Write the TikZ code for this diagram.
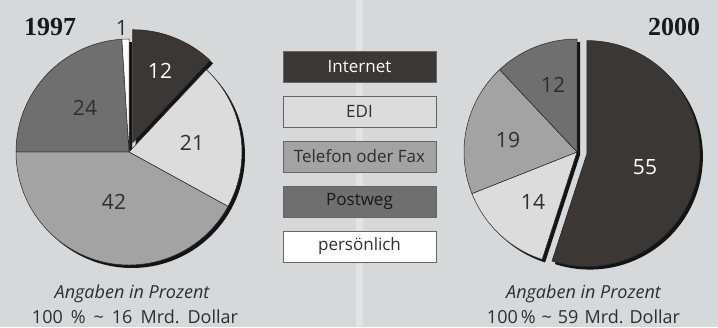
\documentclass[tikz,border=0pt]{standalone}
\usepackage{fontspec}
\setmainfont{Open Sans}
\newfontfamily\yearfont{Liberation Serif}
\definecolor{bg}{HTML}{D7D8DA}
\definecolor{stripe}{HTML}{E2E3E5}
\definecolor{cInternet}{HTML}{3B3734}
\definecolor{cEDI}{HTML}{DCDCDC}
\definecolor{cTel}{HTML}{A3A3A3}
\definecolor{cPost}{HTML}{6F6F6F}
\definecolor{cPers}{HTML}{FFFFFF}
\definecolor{textgray}{HTML}{2E2E2E}
\definecolor{shadowc}{HTML}{141414}
\newcommand\mkslice[5]{\path[#5] (#1,#2) -- ++(#3:113) arc[start angle=#3,end angle=#4,radius=113] -- cycle;}
\begin{document}
\begin{tikzpicture}[x=1pt,y=1pt,
  slice/.style={draw=black!85, line width=0.5pt},
  shadowfill/.style={fill=shadowc},
  legendbox/.style={draw=black!60, line width=0.8pt, minimum width=153pt, minimum height=31pt, inner sep=0pt, font=\fontsize{17}{20}\selectfont},
  pienum/.style={font=\fontsize{21}{24}\selectfont, text=textgray},
  capt/.style={font=\fontsize{18}{22}\selectfont, text=textgray},
  yearlabel/.style={font=\yearfont\bfseries\fontsize{26}{30}\selectfont, text=black!90}
]
\useasboundingbox (0,0) rectangle (718,327);
\fill[bg] (0,0) rectangle (718,327);
\fill[stripe] (356,0) rectangle (363,327);
% ---- left pie (1997) ----
\mkslice{135.7}{181.3}{90}{46.8}{shadowfill}
\mkslice{132}{172}{46.8}{-270}{shadowfill}
\mkslice{132.7}{184.3}{90}{46.8}{slice,fill=cInternet}
\mkslice{129}{175}{46.8}{-28.8}{slice,fill=cEDI}
\mkslice{129}{175}{-28.8}{-180}{slice,fill=cTel}
\mkslice{129}{175}{180}{93.6}{slice,fill=cPost}
\mkslice{129}{175}{93.6}{90}{slice,fill=cPers}
\node[pienum, text=white] (l12) at (160,256) {12};
\node[pienum] (l21) at (192,184) {21};
\node[pienum] (l24) at (85,219) {24};
\node[pienum] (l42) at (114,125) {42};
\node[pienum] (l1) at (122,299) {1};
\node[yearlabel] (y1997) at (50,300) {1997};
% ---- right pie (2000) ----
\mkslice{589.9}{170.4}{90}{-108}{shadowfill}
\mkslice{580}{172}{-108}{-270}{shadowfill}
\mkslice{586.9}{173.4}{90}{-108}{slice,fill=cInternet}
\mkslice{577}{175}{-108}{-158.4}{slice,fill=cEDI}
\mkslice{577}{175}{-158.4}{-226.8}{slice,fill=cTel}
\mkslice{577}{175}{-226.8}{-270}{slice,fill=cPost}
\node[pienum, text=white] (r55) at (645,160) {55};
\node[pienum] (r12) at (553,242) {12};
\node[pienum] (r19) at (508,187) {19};
\node[pienum] (r14) at (533,125) {14};
\node[yearlabel] (y2000) at (674,300) {2000};
% ---- legend ----
\node[legendbox, fill=cInternet, text=white] (lgInternet) at (359.5,260.5) {Internet};
\node[legendbox, fill=cEDI, text=textgray] (lgEDI) at (359.5,215.5) {EDI};
\node[legendbox, fill=cTel, text=textgray] (lgTel) at (359.5,170.5) {Telefon oder Fax};
\node[legendbox, fill=cPost, text=black!90] (lgPost) at (359.5,125.5) {Postweg};
\node[legendbox, fill=cPers, text=textgray] (lgPers) at (359.5,80.5) {persönlich};
% ---- captions ----
\node[capt] (capL1) at (132,33) {\itshape Angaben in Prozent};
\node[capt] (capL2) at (135,10) {100\hspace{8pt}\%\hspace{8pt}\textasciitilde\hspace{8pt}16\hspace{8pt}Mrd.\hspace{8pt}Dollar};
\node[capt] (capR1) at (583.5,33) {\itshape Angaben in Prozent};
\node[capt] (capR2) at (583.5,10) {100\hspace{3pt}\%\hspace{6pt}\textasciitilde\hspace{6pt}59\hspace{6pt}Mrd.\hspace{6pt}Dollar};
\end{tikzpicture}
\end{document}
